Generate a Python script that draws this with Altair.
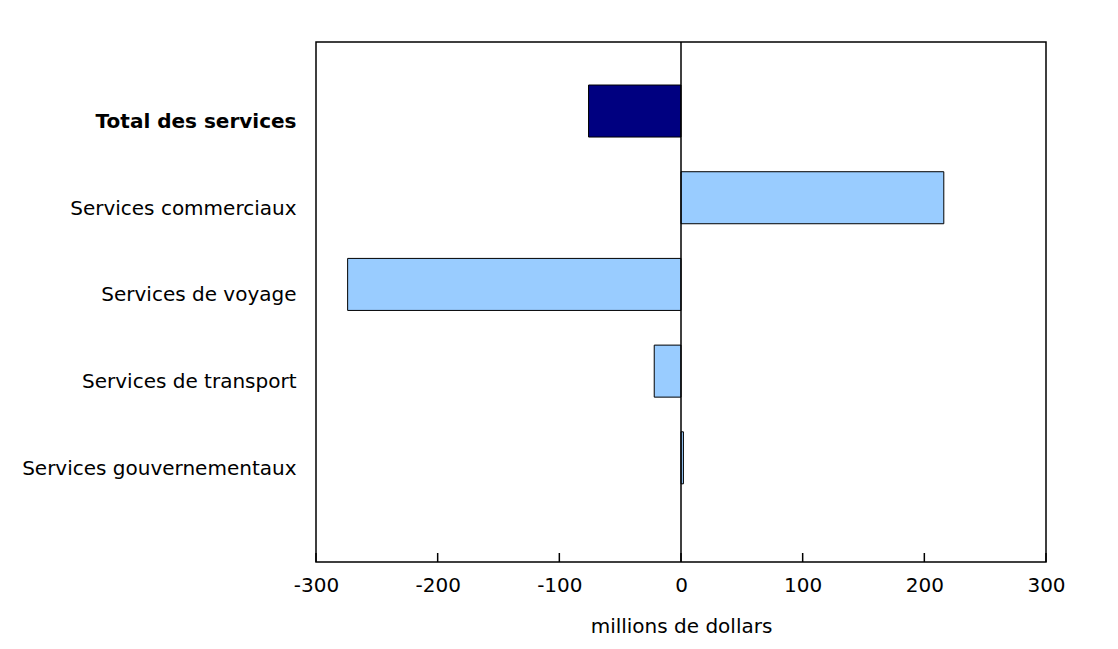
import altair as alt
import pandas as pd

categories = [
    "Total des services",
    "Services commerciaux",
    "Services de voyage",
    "Services de transport",
    "Services gouvernementaux",
]
values = [-76, 216, -274, -22, 2]
groups = ["total", "detail", "detail", "detail", "detail"]
tick_values = [-300, -200, -100, 0, 100, 200, 300]

df = pd.DataFrame({"cat": categories, "val": values, "grp": groups})
ticks_df = pd.DataFrame({"t": tick_values})

FONT = "DejaVu Sans"
FS = 20

xscale = alt.Scale(domain=[-300, 300], nice=False, zero=False)

bars = alt.Chart(df).mark_bar(stroke="black", strokeWidth=1).encode(
    y=alt.Y(
        "cat:N",
        sort=categories,
        scale=alt.Scale(paddingInner=0.4, paddingOuter=0.699, align=0.355),
        axis=alt.Axis(
            title=None,
            ticks=False,
            domain=False,
            labelPadding=20,
            labelOffset=11,
            labelFont=FONT,
            labelFontSize=FS,
            labelColor="black",
            labelLimit=400,
            labelFontWeight={
                "condition": {"test": "datum.value == 'Total des services'", "value": "bold"},
                "value": "normal",
            },
        ),
    ),
    x=alt.X(
        "val:Q",
        scale=xscale,
        axis=alt.Axis(
            title="millions de dollars",
            values=tick_values,
            labelExpr="'' + datum.value",
            ticks=False,
            domain=False,
            grid=False,
            labelPadding=13,
            labelFont=FONT,
            labelFontSize=FS,
            labelColor="black",
            labelFlush=False,
            titleFont=FONT,
            titleFontSize=FS,
            titleFontWeight="normal",
            titleColor="black",
            titlePadding=21,
        ),
    ),
    color=alt.Color(
        "grp:N",
        scale=alt.Scale(domain=["total", "detail"], range=["#000080", "#99CCFF"]),
        legend=None,
    ),
)

zero = alt.Chart(pd.DataFrame({"z": [0]})).mark_rule(color="black", strokeWidth=1.5).encode(
    x=alt.X("z:Q", scale=xscale)
)

tick_marks = alt.Chart(ticks_df).mark_rule(color="black", strokeWidth=1.5).encode(
    x=alt.X("t:Q", scale=xscale),
    y=alt.value(511),
    y2=alt.value(520),
)

chart = (
    alt.layer(bars, zero, tick_marks)
    .properties(
        width=730,
        height=520,
        autosize="none",
        padding={"left": 308, "top": 34, "right": 56, "bottom": 79},
        background="white",
    )
    .configure_view(stroke="black", strokeWidth=1.5)
)

chart.save("out.html", embed_options={"renderer": "svg", "actions": False})
